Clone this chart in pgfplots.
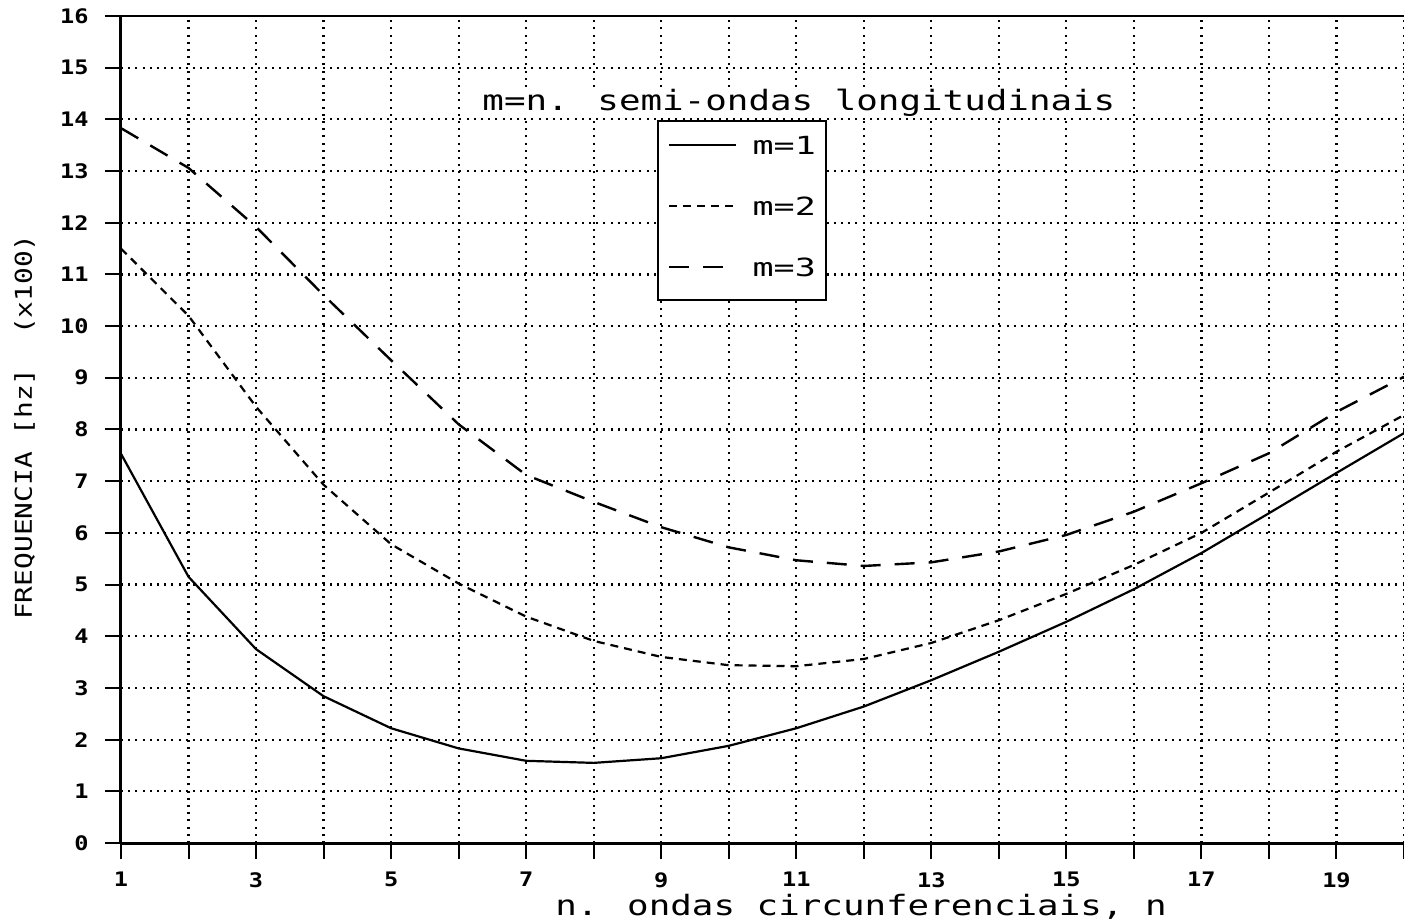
\documentclass[border=0pt]{standalone}
\usepackage{fontspec}
\usepackage{pgfplots}
\pgfplotsset{compat=1.18}
\setmainfont{DejaVu Sans Mono}
\newfontfamily\labfontfam{DejaVu Sans Mono}[FakeStretch=1.28]
\newfontfamily\legfontfam{DejaVu Sans Mono}[FakeStretch=1.4]
\newfontfamily\ylabfontfam{DejaVu Sans Mono}[FakeStretch=1.2]
\newfontfamily\tickfontfam{DejaVu Sans Mono Bold}[FakeStretch=1.18]
\newcommand\labfont{\labfontfam\fontsize{14bp}{16bp}\selectfont}
\newcommand\legfont{\legfontfam\fontsize{12.5bp}{14bp}\selectfont}
\newcommand\ylabfont{\ylabfontfam\fontsize{11.6bp}{13bp}\selectfont}
\newcommand\tickfont{\tickfontfam\fontsize{10bp}{12bp}\selectfont}
\begin{document}
\begin{tikzpicture}
\begin{axis}[
  scale only axis, width=641.5bp, height=413.5bp,
  xmin=1, xmax=20, ymin=0, ymax=16,
  axis x line*=bottom, axis y line*=left,
  axis line style={-, line width=1.5bp, black},
  xtick={1,3,...,19}, minor xtick={2,4,...,20},
  ytick={0,1,...,16},
  grid=both,
  major grid style={line width=1.1bp, black, dash pattern=on 1bp off 2.6bp},
  minor grid style={line width=1.1bp, black, dash pattern=on 1bp off 2.6bp},
  tick align=outside,
  major tick length=8bp, minor tick length=8bp,
  every tick/.style={line width=1bp, black},
  minor tick style={line width=1bp, black},
  /pgf/number format/assume math mode=true,
  xticklabel style={font=\tickfont, inner sep=0pt, anchor=north, yshift=-6.5bp},
  yticklabel style={font=\tickfont, inner sep=0pt, anchor=east, xshift=-8bp},
  xlabel={n. ondas circunferenciais, n},
  xlabel style={font=\labfont, at={(axis description cs:0.5768,-0.0871)}, anchor=base, inner sep=0pt},
  ylabel={FREQUENCIA [hz]\ \ (x100)},
  ylabel style={font=\ylabfont, at={(axis description cs:-0.0694,0.503)}, anchor=base, inner sep=0pt, rotate=0},
  legend style={at={(axis description cs:0.4178,0.8742)}, anchor=north west,
    draw=black, line width=1.2bp, fill=white, font=\legfont,
    inner xsep=5bp, inner ysep=7.5bp, row sep=17bp,
    nodes={inner sep=0pt, text height=9bp, text depth=4.5bp},
    /tikz/every odd column/.style={column sep=7.5bp}},
  legend cell align=left,
  legend image code/.code={\draw[#1] (0bp,2.5bp) -- (33.5bp,2.5bp);},
]
\addplot[black, line width=1.1bp] coordinates {
(1,7.53) (2,5.15) (3,3.75) (4,2.84) (5,2.22) (6,1.83) (7,1.59) (8,1.55) (9,1.64) (10,1.88)
(11,2.22) (12,2.64) (13,3.15) (14,3.70) (15,4.28) (16,4.91) (17,5.61) (18,6.38) (19,7.16) (20,7.93)};
\addlegendentry{m=1}
\addplot[black, line width=1.1bp, dash pattern=on 4bp off 3bp] coordinates {
(1,11.5) (2,10.2) (3,8.44) (4,6.93) (5,5.78) (6,5.02) (7,4.38) (8,3.91) (9,3.60) (10,3.44)
(11,3.42) (12,3.56) (13,3.87) (14,4.31) (15,4.82) (16,5.38) (17,6.00) (18,6.78) (19,7.57) (20,8.28)};
\addlegendentry{m=2}
\addplot[black, line width=1.2bp, dash pattern=on 10bp off 7bp] coordinates {
(1,13.83) (2,13.06) (3,11.92) (4,10.6) (5,9.34) (6,8.10) (7,7.12) (8,6.60) (9,6.11) (10,5.72)
(11,5.47) (12,5.36) (13,5.43) (14,5.64) (15,5.96) (16,6.41) (17,6.96) (18,7.54) (19,8.34) (20,9.02)};
\addlegendentry{m=3}
\draw[line width=1.5bp] (rel axis cs:0,1) -- (rel axis cs:1,1);
\node[anchor=base west, font=\labfont, inner sep=0pt, fill=white] at (rel axis cs:0.2814,0.8863) {m=n. semi-ondas longitudinais};
\end{axis}
\pgfresetboundingbox
\useasboundingbox ([xshift=-60.5bp,yshift=-39bp]current axis.south west) rectangle ([yshift=8bp]current axis.north east);
\end{tikzpicture}
\end{document}
